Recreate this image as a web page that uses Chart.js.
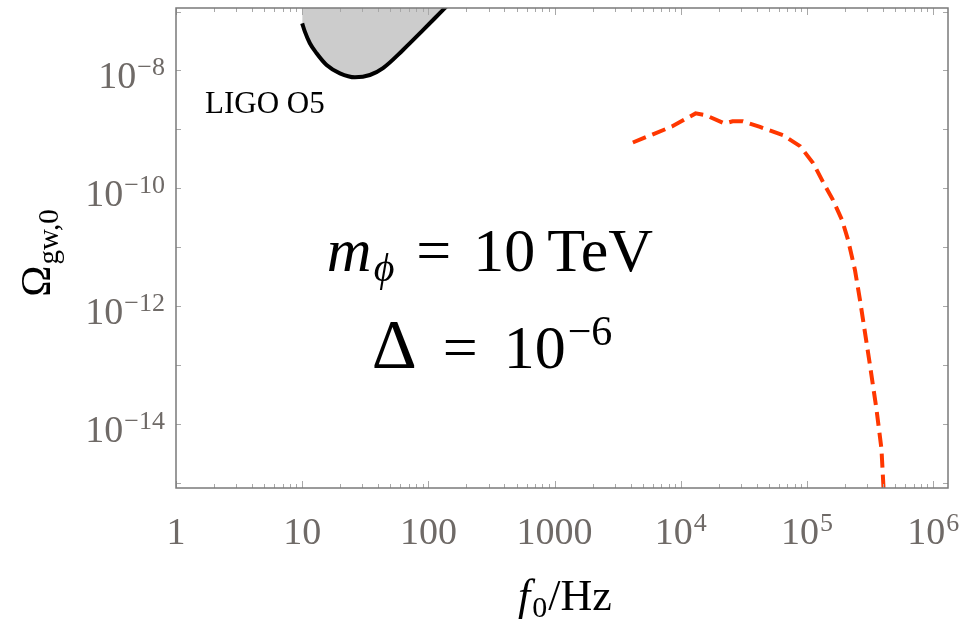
<!DOCTYPE html>
<html>
<head>
<meta charset="utf-8">
<script src="https://cdn.jsdelivr.net/npm/chart.js@4"></script>
<style>
  body { margin: 0; background: #fff; }
  #wrap { width: 964px; height: 623px; }
</style>
</head>
<body>
<div id="wrap"><canvas id="gwChart" width="964" height="623"></canvas></div>
<script>
// LIGO O5 sensitivity curve
const ligoFreq = [10, 10.5, 11.5, 13.0, 15.6, 19.9, 26.2, 34.4, 43.7, 62.9, 90.6, 130.6, 148];
const ligoOmega = [6.3e-8, 4.56e-8, 2.9e-8, 1.96e-8, 1.24e-8, 8.96e-9, 7.67e-9, 8.39e-9, 1.10e-8, 2.23e-8, 4.83e-8, 1.07e-7, 1.4e-7];

// signal spectrum, m_phi = 10 TeV, Delta = 1e-6
const signalFreq = [4170, 8500, 13100, 15900, 22200, 25700, 31000, 42400, 64600, 88100, 111700, 134000, 160800, 189500, 211500, 240000, 263000, 313000, 355000, 389000, 403000, 410000];
const signalOmega = [6e-10, 1.12e-9, 1.87e-9, 1.73e-9, 1.26e-9, 1.37e-9, 1.37e-9, 1.10e-9, 8.0e-10, 5.2e-10, 2.69e-10, 1.28e-10, 6.3e-11, 2.9e-11, 1.33e-11, 4.1e-12, 1.27e-12, 1.12e-13, 1.8e-14, 3.8e-15, 9e-16, 3e-16];

const xTickValues = [1, 10, 100, 1000, 1e4, 1e5, 1e6];
const xTickBase = ['1', '10', '100', '1000', '10', '10', '10'];
const xTickExp = ['', '', '', '', '4', '5', '6'];
const yTickValues = [1e-8, 1e-10, 1e-12, 1e-14];
const yTickExp = ['\u22128', '\u221210', '\u221212', '\u221214'];

const SERIF = "'Liberation Serif', 'DejaVu Serif', serif";
const tickGray = '#6f6a67';

function drawParts(ctx, parts, x, y, align) {
  let w = 0;
  parts.forEach(p => {
    ctx.font = p.font;
    p.w = ctx.measureText(p.text).width;
    w += p.w + (p.gap || 0);
  });
  let cx = align === 'center' ? x - w / 2 : align === 'right' ? x - w : x;
  parts.forEach(p => {
    cx += p.gap || 0;
    ctx.font = p.font;
    ctx.fillText(p.text, cx, y + (p.dy || 0));
    cx += p.w;
  });
}

const framePlugin = {
  id: 'frameAndLabels',
  afterDraw(chart) {
    const ctx = chart.ctx;
    const area = chart.chartArea;
    const xs = chart.scales.x;
    const ys = chart.scales.y;
    ctx.save();
    ctx.textAlign = 'left';
    ctx.textBaseline = 'alphabetic';

    // ticks inside the frame
    ctx.strokeStyle = '#a8a8a8';
    ctx.lineWidth = 1;
    ctx.beginPath();
    for (let d = 0; d <= 6; d++) {
      for (let k = 1; k <= 9; k++) {
        const v = k * Math.pow(10, d);
        if (v < xs.min || v > xs.max) continue;
        const px = Math.round(xs.getPixelForValue(v)) + 0.5;
        const len = k === 1 ? 7 : 4;
        ctx.moveTo(px, area.bottom); ctx.lineTo(px, area.bottom - len);
        ctx.moveTo(px, area.top); ctx.lineTo(px, area.top + len);
      }
    }
    for (let e = -15; e <= -7; e++) {
      const v = Math.pow(10, e);
      if (v < ys.min || v > ys.max) continue;
      const py = Math.round(ys.getPixelForValue(v)) + 0.5;
      ctx.moveTo(area.left, py); ctx.lineTo(area.left + 5, py);
      ctx.moveTo(area.right, py); ctx.lineTo(area.right - 5, py);
    }
    ctx.stroke();

    // frame
    ctx.strokeStyle = '#7a7a7a';
    ctx.lineWidth = 1.5;
    ctx.strokeRect(area.left, area.top, area.right - area.left, area.bottom - area.top);

    // x tick labels
    ctx.fillStyle = tickGray;
    xTickValues.forEach((v, i) => {
      const px = xs.getPixelForValue(v);
      const parts = [{text: xTickBase[i], font: '38px ' + SERIF}];
      if (xTickExp[i]) parts.push({text: xTickExp[i], font: '26px ' + SERIF, dy: -13, gap: 1});
      drawParts(ctx, parts, px, area.bottom + 56, 'center');
    });

    // y tick labels
    yTickValues.forEach((v, i) => {
      const py = ys.getPixelForValue(v);
      drawParts(ctx, [
        {text: '10', font: '38px ' + SERIF},
        {text: yTickExp[i], font: '26px ' + SERIF, dy: -13, gap: 1}
      ], area.left - 11, py + 18, 'right');
    });

    // axis titles
    ctx.fillStyle = '#000';
    drawParts(ctx, [
      {text: 'f', font: 'italic 44px ' + SERIF},
      {text: '0', font: '30px ' + SERIF, dy: 7, gap: 2},
      {text: '/Hz', font: '44px ' + SERIF, gap: 1}
    ], 565, 610, 'center');

    ctx.save();
    ctx.translate(50, 253);
    ctx.rotate(-Math.PI / 2);
    drawParts(ctx, [
      {text: '\u03A9', font: '42px ' + SERIF},
      {text: 'gw,0', font: '29px ' + SERIF, dy: 8, gap: 1}
    ], 0, 0, 'center');
    ctx.restore();

    // annotations
    drawParts(ctx, [{text: 'LIGO O5', font: '31px ' + SERIF}], 205, 113, 'left');

    drawParts(ctx, [
      {text: 'm', font: 'italic 62px ' + SERIF},
      {text: '\u03D5', font: 'italic 40px ' + SERIF, dy: 10, gap: 2},
      {text: '=', font: '62px ' + SERIF, gap: 22},
      {text: '10', font: '62px ' + SERIF, gap: 22},
      {text: 'TeV', font: '62px ' + SERIF, gap: 12}
    ], 490, 271, 'center');

    drawParts(ctx, [
      {text: '\u0394', font: '70px ' + SERIF},
      {text: '=', font: '62px ' + SERIF, gap: 26},
      {text: '10', font: '62px ' + SERIF, gap: 26},
      {text: '\u22126', font: '42px ' + SERIF, dy: -23, gap: 2}
    ], 492, 368, 'center');

    ctx.restore();
  }
};

const config = {
  type: 'line',
  data: {
    datasets: [{
      label: 'LIGO O5',
      data: ligoFreq.map((f, i) => ({x: f, y: ligoOmega[i]})),
      borderColor: '#000000',
      backgroundColor: '#cccccc',
      borderWidth: 4,
      fill: 'end',
      pointRadius: 0,
      cubicInterpolationMode: 'monotone',
      clip: 0
    }, {
      label: 'signal',
      data: signalFreq.map((f, i) => ({x: f, y: signalOmega[i]})),
      borderColor: 'rgb(255, 55, 0)',
      borderWidth: 4,
      borderDash: [14, 7],
      fill: false,
      pointRadius: 0,
      tension: 0,
      clip: 0
    }]
  },
  options: {
    responsive: false,
    animation: false,
    layout: { padding: { left: 176, top: 8, right: 16, bottom: 135 } },
    plugins: { legend: { display: false }, tooltip: { enabled: false } },
    scales: {
      x: { type: 'logarithmic', min: 1, max: 1.31e6, display: false },
      y: { type: 'logarithmic', min: 8.2e-16, max: 1.15e-7, display: false }
    }
  },
  plugins: [framePlugin]
};

const gwChart = new Chart(document.getElementById('gwChart'), config);
</script>
</body>
</html>
